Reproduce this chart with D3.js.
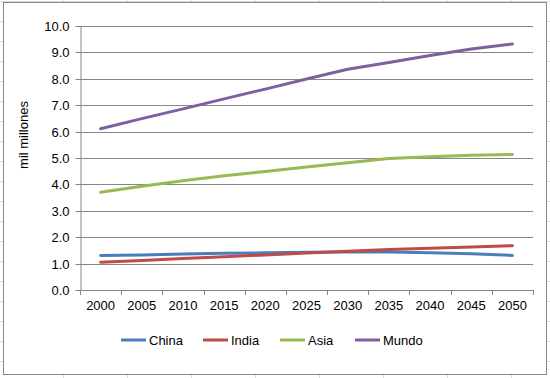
<!DOCTYPE html>
<html>
<head>
<meta charset="utf-8">
<script src="https://cdn.jsdelivr.net/npm/d3@7"></script>
<style>
html,body{margin:0;padding:0;background:#fff;}
svg{display:block;}
text{font-family:"Liberation Sans",Arial,sans-serif;fill:#000;}
</style>
</head>
<body>
<svg id="c" width="550" height="378"></svg>
<script>
const years = ["2000","2005","2010","2015","2020","2025","2030","2035","2040","2045","2050"];
const china = [1.31,1.33,1.36,1.39,1.41,1.43,1.44,1.44,1.41,1.37,1.31];
const india = [1.05,1.12,1.19,1.26,1.33,1.40,1.47,1.53,1.58,1.63,1.68];
const asia  = [3.70,3.93,4.14,4.33,4.49,4.66,4.82,4.98,5.05,5.10,5.13];
const mundo = [6.11,6.49,6.86,7.24,7.61,7.99,8.36,8.62,8.88,9.13,9.32];
const seriesNames = ["China","India","Asia","Mundo"];
const seriesColors = ["#4a7ebb","#be4b48","#98b954","#7d60a0"];
const yTicks = [0,1,2,3,4,5,6,7,8,9,10];
const yLabel = "mil millones";

(function(){
const series = [china, india, asia, mundo].map((v,i)=>({name:seriesNames[i], color:seriesColors[i], values:v}));

const svg = d3.select("#c");

// faint spreadsheet cells behind the chart
const bg = svg.append("g").attr("stroke","#dadada").attr("stroke-width",1);
d3.range(63, 550, 64).forEach(xx=>bg.append("line").attr("x1",xx+0.5).attr("x2",xx+0.5).attr("y1",0).attr("y2",378));
d3.range(1.5, 378, 20).forEach(yy=>bg.append("line").attr("x1",0).attr("x2",550).attr("y1",yy).attr("y2",yy));

// chart area
svg.append("rect").attr("x",3.5).attr("y",2.5).attr("width",543).attr("height",372)
  .attr("fill","#fff").attr("stroke","#868686").attr("stroke-width",1);

const pLeft = 80, pRight = 533, pTop = 26, pBottom = 290;
const x = d3.scaleBand().domain(years).range([pLeft, pRight]).padding(0);
const y = d3.scaleLinear().domain([0,10]).range([pBottom, pTop]);

// gridlines
svg.append("g").selectAll("line").data(yTicks).join("line")
  .attr("x1",pLeft).attr("x2",pRight)
  .attr("y1",d=>Math.round(y(d))+0.5).attr("y2",d=>Math.round(y(d))+0.5)
  .attr("stroke","#868686").attr("stroke-width",1);

// y axis
const yAxis = svg.append("g").attr("transform",`translate(${pLeft+0.5},0)`)
  .call(d3.axisLeft(y).tickValues(yTicks).tickFormat(d3.format(".1f")).tickSize(5).tickPadding(6));
yAxis.select(".domain").attr("stroke","#868686");
yAxis.selectAll(".tick line").attr("stroke","#868686");
yAxis.selectAll(".tick").attr("transform",d=>`translate(0,${Math.round(y(d))+0.5})`);
yAxis.selectAll("text").attr("font-size","13px").attr("font-family","Liberation Sans, Arial, sans-serif").attr("fill","#000");

// x axis
const xAxis = svg.append("g").attr("transform",`translate(0,${pBottom+0.5})`)
  .call(d3.axisBottom(x).tickSize(0).tickPadding(10));
xAxis.select(".domain").attr("stroke","#868686").attr("d",`M${pLeft},0H${pRight}`);
xAxis.selectAll("text").attr("font-size","13px").attr("font-family","Liberation Sans, Arial, sans-serif").attr("fill","#000");
// boundary tick marks
svg.append("g").selectAll("line").data(d3.range(years.length+1)).join("line")
  .attr("x1",i=>Math.round(pLeft + i*x.bandwidth())+0.5)
  .attr("x2",i=>Math.round(pLeft + i*x.bandwidth())+0.5)
  .attr("y1",pBottom).attr("y2",pBottom+5)
  .attr("stroke","#868686");

// y label
svg.append("text").attr("transform","translate(28,135) rotate(-90)")
  .attr("text-anchor","middle").attr("font-size","13px").text(yLabel);

// lines
const line = d3.line().x((d,i)=>x(years[i])+x.bandwidth()/2).y(d=>y(d));
svg.append("g").selectAll("path").data(series).join("path")
  .attr("d",d=>line(d.values)).attr("fill","none")
  .attr("stroke",d=>d.color).attr("stroke-width",3)
  .attr("stroke-linejoin","round").attr("stroke-linecap","round");

// legend
const legX = [121, 203, 280, 355];
const lg = svg.append("g");
series.forEach((s,i)=>{
  lg.append("line").attr("x1",legX[i]).attr("x2",legX[i]+25).attr("y1",340).attr("y2",340)
    .attr("stroke",s.color).attr("stroke-width",3);
  lg.append("text").attr("x",legX[i]+28).attr("y",344.5).attr("font-size","13px").text(s.name);
});
})();
</script>
</body>
</html>
